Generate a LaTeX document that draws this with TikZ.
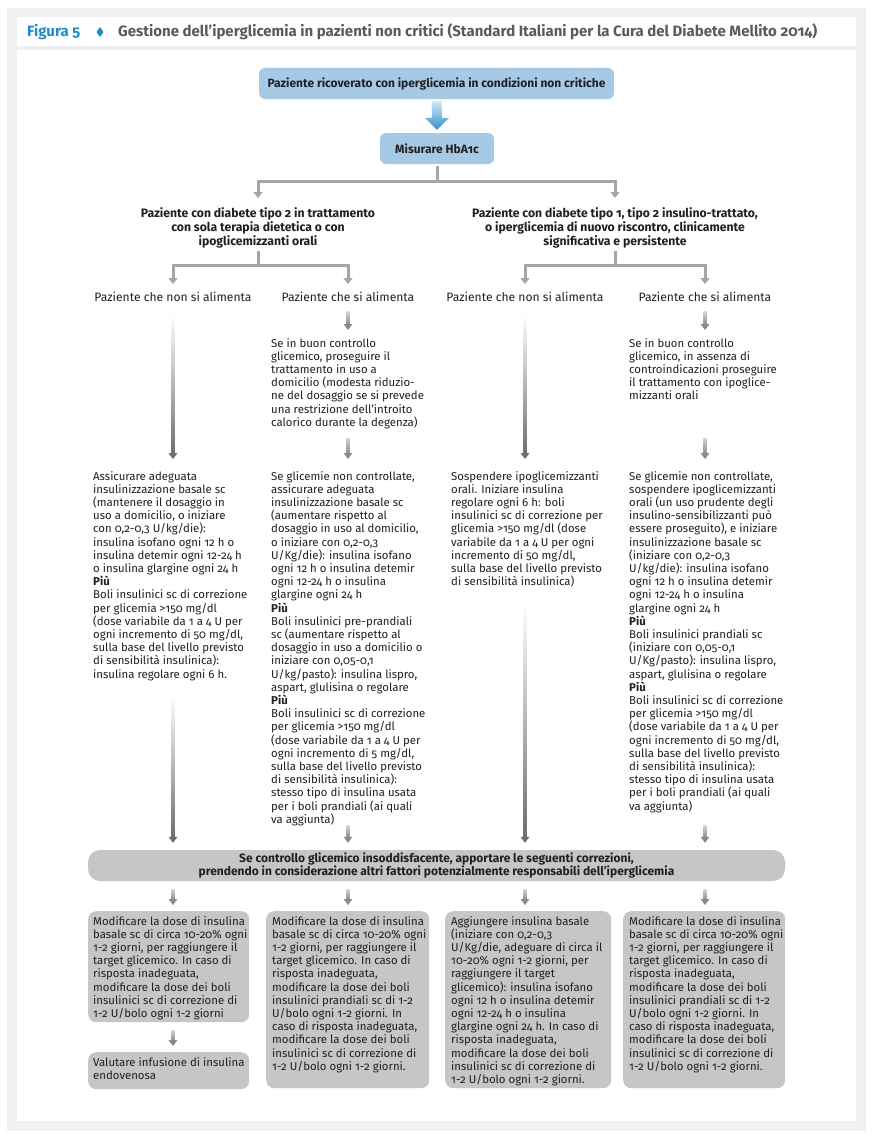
\documentclass[tikz,border=0pt]{standalone}
\usepackage{fontspec}
\setmainfont{Fira Sans}[Numbers=OldStyle]
\usetikzlibrary{arrows.meta,calc}
\definecolor{txt}{HTML}{231F20}
\definecolor{blueb}{HTML}{A6CAE6}
\definecolor{boxg}{HTML}{C6C6C6}
\definecolor{frameg}{HTML}{F0F0F0}
\definecolor{conn}{HTML}{A6A6A6}
\definecolor{connd}{HTML}{6E6E6E}
\definecolor{connm}{HTML}{8A8A8A}
\definecolor{connl}{HTML}{D2D2D2}
\definecolor{figblue}{HTML}{1B8DCB}
\definecolor{titleg}{HTML}{5A5A5A}
\definecolor{arrtop}{HTML}{D4E7F5}
\definecolor{arrbot}{HTML}{2F8FD2}
\newcommand\bodyfont{\fontsize{11.4}{13.2}\selectfont}
% #1 top colour, #2 start coordinate, #3 tip coordinate
\newcommand\fadeconn[3]{%
  \shade[top color=#1, bottom color=connm] ($(#2)+(-1.5,0)$) rectangle ($(#3)+(1.5,-5)$);
  \fill[connm] ($(#3)+(-4.5,-6)$) -- ($(#3)+(4.5,-6)$) -- (#3) -- cycle;}
\newcommand\longconn[2]{%
  \shade[top color=white, bottom color=connd] ($(#1)+(-1.5,0)$) rectangle ($(#2)+(1.5,-5)$);
  \fill[connd] ($(#2)+(-4.5,-6)$) -- ($(#2)+(4.5,-6)$) -- (#2) -- cycle;}
\begin{document}
\begin{tikzpicture}[x=1pt,y=-1pt,
  every node/.style={text=txt},
  body/.style={anchor=north west, align=left, inner sep=0pt, font=\bodyfont},
  lab/.style={inner sep=0pt, font=\fontsize{12.1}{14}\selectfont},
  hdr/.style={align=center, inner sep=0pt, anchor=north, font=\bfseries\fontsize{12.2}{14}\selectfont},
  bluebox/.style={fill=blueb, rounded corners=6pt, font=\bfseries\fontsize{12}{13}\selectfont, inner sep=0pt},
  graybox/.style={fill=boxg, rounded corners=8pt, anchor=north west, inner sep=0pt},
  tree/.style={draw=conn, line width=3pt, -{Triangle[width=9pt,length=6pt]}},
]
\useasboundingbox (0,0) rectangle (873,1140);
\fill[white] (0,0) rectangle (873,1140);
\fill[frameg] (7,8) rectangle (866,1131);
\fill[white] (17,17) rectangle (856,46);
\fill[white] (17,50) rectangle (856,1121);

% header
\node[anchor=west, inner sep=0pt, font=\bfseries\fontsize{15}{17}\selectfont, text=figblue] (fig) at (27,32) {Figura 5};
\fill[figblue] (100,27) -- (103.5,32) -- (100,37) -- (96.5,32) -- cycle;
\node[anchor=west, inner sep=0pt, font=\bfseries\fontsize{15}{17}\selectfont, text=titleg] (title) at (118,32) {Gestione dell’iperglicemia in pazienti non critici (Standard Italiani per la Cura del Diabete Mellito 2014)};

% top boxes
\node[bluebox, minimum width=355pt, minimum height=31pt] (p) at (436.5,83.5) {Paziente ricoverato con iperglicemia in condizioni non critiche};
\node[bluebox, minimum width=114pt, minimum height=31pt] (m) at (437,148.5) {Misurare HbA1c};
\coordinate (ba) at ($(p.south)+(0,2)$);
\coordinate (bt) at ($(m.north)+(0,-3)$);
\shade[top color=arrtop, bottom color=arrbot] ($(ba)+(-5,0)$) -- ($(ba)+(5,0)$) -- ($(bt)+(5,-12)$) -- ($(bt)+(12,-12)$) -- (bt) -- ($(bt)+(-12,-12)$) -- ($(bt)+(-5,-12)$) -- cycle;

% group headers
\node[hdr] (gL) at (258,207) {Paziente con diabete tipo 2 in trattamento\\con sola terapia dietetica o con\\ipoglicemizzanti orali};
\node[hdr] (gR) at (615,207) {Paziente con diabete tipo 1, tipo 2 insulino-trattato,\\o iperglicemia di nuovo riscontro, clinicamente\\significativa e persistente};
\draw[tree, shorten <=2pt, shorten >=9pt] (m.south) -- ++(0,17) -| (gL.north);
\draw[tree, shorten <=2pt, shorten >=9pt] (m.south) -- ++(0,17) -| (gR.north);

% labels
\node[lab] (l1) at (173,297) {Paziente che non si alimenta};
\node[lab] (l2) at (348,297) {Paziente che si alimenta};
\node[lab] (l3) at (525,297) {Paziente che non si alimenta};
\node[lab] (l4) at (705,297) {Paziente che si alimenta};
\draw[tree, shorten <=3pt, shorten >=8pt] (gL.south) -- ++(0,17) -| (l1.north);
\draw[tree, shorten <=3pt, shorten >=8pt] (gL.south) -- ++(0,17) -| (l2.north);
\draw[tree, shorten <=3pt, shorten >=8pt] (gR.south) -- ++(0,17) -| (l3.north);
\draw[tree, shorten <=3pt, shorten >=8pt] (gR.south) -- ++(0,17) -| (l4.north);

% column texts
\node[body] (c2t) at (271,338) {Se in buon controllo\\
glicemico, proseguire il\\
trattamento in uso a\\
domicilio (modesta riduzio-\\
ne del dosaggio se si prevede\\
una restrizione dell’introito\\
calorico durante la degenza)};
\node[body] (c4t) at (629,338) {Se in buon controllo\\
glicemico, in assenza di\\
controindicazioni proseguire\\
il trattamento con ipoglice-\\
mizzanti orali};

\node[body] (c1) at (93,471) {Assicurare adeguata\\
insulinizzazione basale sc\\
(mantenere il dosaggio in\\
uso a domicilio, o iniziare\\
con 0,2-0,3 U/kg/die):\\
insulina isofano ogni 12 h o\\
insulina detemir ogni 12-24 h\\
o insulina glargine ogni 24 h\\
\textbf{Più}\\
Boli insulinici sc di correzione\\
per glicemia >150 mg/dl\\
(dose variabile da 1 a 4 U per\\
ogni incremento di 50 mg/dl,\\
sulla base del livello previsto\\
di sensibilità insulinica):\\
insulina regolare ogni 6 h.};

\node[body] (c2) at (271,471) {Se glicemie non controllate,\\
assicurare adeguata\\
insulinizzazione basale sc\\
(aumentare rispetto al\\
dosaggio in uso al domicilio,\\
o iniziare con 0,2-0,3\\
U/Kg/die): insulina isofano\\
ogni 12 h o insulina detemir\\
ogni 12-24 h o insulina\\
glargine ogni 24 h\\
\textbf{Più}\\
Boli insulinici pre-prandiali\\
sc (aumentare rispetto al\\
dosaggio in uso a domicilio o\\
iniziare con 0,05-0,1\\
U/kg/pasto): insulina lispro,\\
aspart, glulisina o regolare\\
\textbf{Più}\\
Boli insulinici sc di correzione\\
per glicemia >150 mg/dl\\
(dose variabile da 1 a 4 U per\\
ogni incremento di 5 mg/dl,\\
sulla base del livello previsto\\
di sensibilità insulinica):\\
stesso tipo di insulina usata\\
per i boli prandiali (ai quali\\
va aggiunta)};

\node[body] (c3) at (451,471) {Sospendere ipoglicemizzanti\\
orali. Iniziare insulina\\
regolare ogni 6 h: boli\\
insulinici sc di correzione per\\
glicemia >150 mg/dl (dose\\
variabile da 1 a 4 U per ogni\\
incremento di 50 mg/dl,\\
sulla base del livello previsto\\
di sensibilità insulinica)};

\node[body] (c4) at (629,471) {Se glicemie non controllate,\\
sospendere ipoglicemizzanti\\
orali (un uso prudente degli\\
insulino-sensibilizzanti può\\
essere proseguito), e iniziare\\
insulinizzazione basale sc\\
(iniziare con 0,2-0,3\\
U/kg/die): insulina isofano\\
ogni 12 h o insulina detemir\\
ogni 12-24 h o insulina\\
glargine ogni 24 h\\
\textbf{Più}\\
Boli insulinici prandiali sc\\
(iniziare con 0,05-0,1\\
U/Kg/pasto): insulina lispro,\\
aspart, glulisina o regolare\\
\textbf{Più}\\
Boli insulinici sc di correzione\\
per glicemia >150 mg/dl\\
(dose variabile da 1 a 4 U per\\
ogni incremento di 50 mg/dl,\\
sulla base del livello previsto\\
di sensibilità insulinica):\\
stesso tipo di insulina usata\\
per i boli prandiali (ai quali\\
va aggiunta)};

% big bar
\node[fill=boxg, rounded corners=12pt, minimum width=697pt, minimum height=31pt, align=center, inner sep=0pt, font=\bfseries\fontsize{12}{13}\selectfont] (B) at (436.5,865.5) {Se controllo glicemico insoddisfacente, apportare le seguenti correzioni,\\prendendo in considerazione altri fattori potenzialmente responsabili dell’iperglicemia};

% bottom boxes
\node[graybox, minimum width=161pt, minimum height=111pt] (b1) at (88,911) {};
\node[graybox, minimum width=163pt, minimum height=177pt] (b2) at (266,911) {};
\node[graybox, minimum width=166pt, minimum height=177pt] (b3) at (445,911) {};
\node[graybox, minimum width=162pt, minimum height=177pt] (b4) at (623,911) {};
\node[graybox, minimum width=161pt, minimum height=37pt] (b5) at (88,1052) {};

\node[body] (t1) at ($(b1.north west)+(5,5)$) {Modificare la dose di insulina\\
basale sc di circa 10-20\% ogni\\
1-2 giorni, per raggiungere il\\
target glicemico. In caso di\\
risposta inadeguata,\\
modificare la dose dei boli\\
insulinici sc di correzione di\\
1-2 U/bolo ogni 1-2 giorni};
\node[body] (t2) at ($(b2.north west)+(6,5)$) {Modificare la dose di insulina\\
basale sc di circa 10-20\% ogni\\
1-2 giorni, per raggiungere il\\
target glicemico. In caso di\\
risposta inadeguata,\\
modificare la dose dei boli\\
insulinici prandiali sc di 1-2\\
U/bolo ogni 1-2 giorni. In\\
caso di risposta inadeguata,\\
modificare la dose dei boli\\
insulinici sc di correzione di\\
1-2 U/bolo ogni 1-2 giorni.};
\node[body] (t3) at ($(b3.north west)+(6,5)$) {Aggiungere insulina basale\\
(iniziare con 0,2-0,3\\
U/Kg/die, adeguare di circa il\\
10-20\% ogni 1-2 giorni, per\\
raggiungere il target\\
glicemico): insulina isofano\\
ogni 12 h o insulina detemir\\
ogni 12-24 h o insulina\\
glargine ogni 24 h. In caso di\\
risposta inadeguata,\\
modificare la dose dei boli\\
insulinici sc di correzione di\\
1-2 U/bolo ogni 1-2 giorni.};
\node[body] (t4) at ($(b4.north west)+(6,5)$) {Modificare la dose di insulina\\
basale sc di circa 10-20\% ogni\\
1-2 giorni, per raggiungere il\\
target glicemico. In caso di\\
risposta inadeguata,\\
modificare la dose dei boli\\
insulinici prandiali sc di 1-2\\
U/bolo ogni 1-2 giorni. In\\
caso di risposta inadeguata,\\
modificare la dose dei boli\\
insulinici sc di correzione di\\
1-2 U/bolo ogni 1-2 giorni.};
\node[body] (t5) at ($(b5.north west)+(5,5)$) {Valutare infusione di insulina\\
endovenosa};

% column connectors
\coordinate (s1) at ($(l1.south)+(0,12)$);
\coordinate (e1) at ($(l1 |- c1.north)+(0,-12)$);
\longconn{s1}{e1}
\coordinate (s3) at ($(l3.south)+(0,12)$);
\coordinate (e3) at ($(l3 |- c3.north)+(0,-12)$);
\longconn{s3}{e3}
\coordinate (s2) at ($(l2.south)+(0,10)$);
\coordinate (e2) at ($(l2 |- c2t.north)+(0,-8)$);
\fadeconn{connl}{s2}{e2}
\coordinate (s4) at ($(l4.south)+(0,10)$);
\coordinate (e4) at ($(l4 |- c4t.north)+(0,-8)$);
\fadeconn{connl}{s4}{e4}
\coordinate (s2b) at ($(l2 |- c2.north)+(0,-33)$);
\coordinate (e2b) at ($(l2 |- c2.north)+(0,-12)$);
\fadeconn{connl}{s2b}{e2b}
\coordinate (s4b) at ($(l4 |- c4.north)+(0,-33)$);
\coordinate (e4b) at ($(l4 |- c4.north)+(0,-12)$);
\fadeconn{connl}{s4b}{e4b}

% to the bar
\coordinate (u1) at ($(l1 |- c1.south)+(0,14)$);
\coordinate (v1) at ($(l1 |- B.north)+(0,-7)$);
\longconn{u1}{v1}
\coordinate (u3) at ($(l3 |- c3.south)+(0,14)$);
\coordinate (v3) at ($(l3 |- B.north)+(0,-7)$);
\longconn{u3}{v3}
\coordinate (u2) at ($(l2 |- B.north)+(0,-24)$);
\coordinate (v2) at ($(l2 |- B.north)+(0,-7)$);
\fadeconn{connl}{u2}{v2}
\coordinate (u4) at ($(l4 |- B.north)+(0,-24)$);
\coordinate (v4) at ($(l4 |- B.north)+(0,-7)$);
\fadeconn{connl}{u4}{v4}

% from the bar
\foreach \l/\b in {l1/b1,l2/b2,l3/b3,l4/b4}{
  \coordinate (w) at ($(\l |- B.south)+(0,8)$);
  \coordinate (z) at ($(\l |- \b.north)+(0,-6)$);
  \fadeconn{connl}{w}{z}
}
\coordinate (w5) at ($(l1 |- b1.south)+(0,8)$);
\coordinate (z5) at ($(l1 |- b5.north)+(0,-6)$);
\fadeconn{connl}{w5}{z5}
\end{tikzpicture}
\end{document}
